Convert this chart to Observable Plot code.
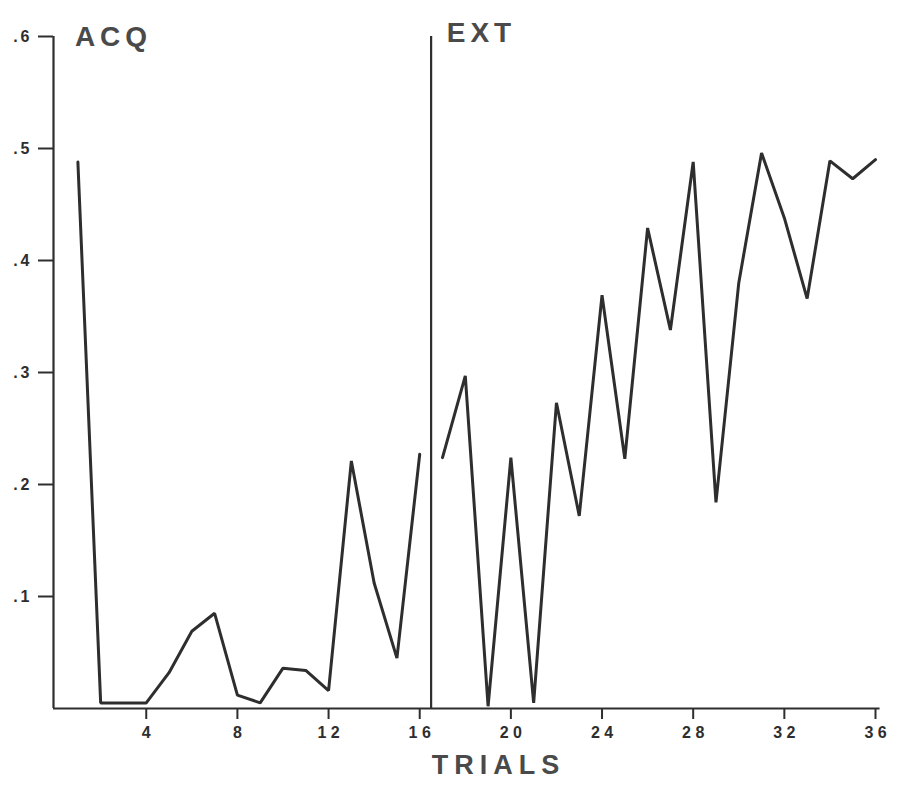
<!DOCTYPE html>
<html>
<head>
<meta charset="utf-8">
<script src="https://cdn.jsdelivr.net/npm/d3@7"></script>
<script src="https://cdn.jsdelivr.net/npm/@observablehq/plot@0.6"></script>
<style>
  html, body { margin: 0; padding: 0; background: #ffffff; }
  #chart svg { display: block; }
</style>
</head>
<body>
<div id="chart"></div>
<script>
// ---- data ----
const acqTrials = [1, 2, 3, 4, 5, 6, 7, 8, 9, 10, 11, 12, 13, 14, 15, 16];
const acqValues = [0.488, 0.005, 0.005, 0.005, 0.032, 0.069, 0.085, 0.012, 0.005, 0.036, 0.034, 0.016, 0.221, 0.112, 0.045, 0.227];
const extTrials = [17, 18, 19, 20, 21, 22, 23, 24, 25, 26, 27, 28, 29, 30, 31, 32, 33, 34, 35, 36];
const extValues = [0.224, 0.297, 0.002, 0.224, 0.005, 0.273, 0.172, 0.369, 0.223, 0.429, 0.338, 0.488, 0.184, 0.380, 0.496, 0.438, 0.366, 0.489, 0.473, 0.490];
const yTicks = [0.1, 0.2, 0.3, 0.4, 0.5, 0.6];
const xTicks = [4, 8, 12, 16, 20, 24, 28, 32, 36];
const phaseLabels = ["ACQ", "EXT"];
const axisLabel = "TRIALS";
const dividerTrial = [16.5];

// table built from the arrays
const rows = [
  ...acqTrials.map((t, i) => ({trial: t, value: acqValues[i], phase: phaseLabels[0]})),
  ...extTrials.map((t, i) => ({trial: t, value: extValues[i], phase: phaseLabels[1]}))
];

const ink = "#2e2e2e";
const textInk = "#4a4a4a";
const font = "'Liberation Sans', 'DejaVu Sans', sans-serif";

const chart = Plot.plot({
  width: 901,
  height: 793,
  marginLeft: 53,
  marginRight: 26,
  marginTop: 36,
  marginBottom: 85,
  style: {fontFamily: font, background: "#ffffff", color: ink},
  x: {domain: [-0.07, 36]},
  y: {domain: [0, 0.6]},
  marks: [
    // axis lines
    Plot.ruleX([-0.07], {y1: 0, y2: 0.6, stroke: ink, strokeWidth: 2.2}),
    Plot.ruleY([0], {x1: -0.07, x2: 36.2, stroke: ink, strokeWidth: 2.2}),
    // y axis ticks & labels
    Plot.axisY({
      ticks: yTicks,
      tickSize: 15,
      tickPadding: 6,
      tickFormat: d => "." + Math.round(d * 10),
      stroke: ink,
      fill: ink,
      label: null
    }),
    // x axis ticks & labels
    Plot.axisX({
      ticks: xTicks,
      tickSize: 11,
      tickPadding: 7,
      tickFormat: d => String(d).split("").join(" "),
      stroke: ink,
      fill: ink,
      label: null
    }),
    // divider between phases
    Plot.ruleX(dividerTrial, {y1: 0, y2: 0.6, stroke: ink, strokeWidth: 2.2}),
    // data lines
    Plot.line(rows, {x: "trial", y: "value", z: "phase", stroke: ink, strokeWidth: 3, strokeLinejoin: "miter", strokeLinecap: "round"}),
    // phase labels
    Plot.text([phaseLabels[0]], {frameAnchor: "top-left", dx: 60, dy: -10, text: d => d, fontSize: 28, fontWeight: "bold", fill: textInk, textAnchor: "middle"}),
    Plot.text([phaseLabels[1]], {frameAnchor: "top-left", dx: 428, dy: -14, text: d => d, fontSize: 28, fontWeight: "bold", fill: textInk, textAnchor: "middle"}),
    // axis title
    Plot.text([axisLabel], {frameAnchor: "bottom-left", dx: 445, dy: 65, text: d => d, fontSize: 27, fontWeight: "bold", fill: textInk, textAnchor: "middle"})
  ]
});

const svg = d3.select(chart);
svg.selectAll("text").filter(function() { return this.textContent === "ACQ" || this.textContent === "EXT"; })
  .style("letter-spacing", "5px");
svg.selectAll("text").filter(function() { return this.textContent === axisLabel; })
  .style("letter-spacing", "6px");
// tick labels: larger, bold
svg.selectAll('g[aria-label="y-axis tick label"] text')
  .style("font-size", "16px").style("font-weight", "bold").style("letter-spacing", "3px");
svg.selectAll('g[aria-label="x-axis tick label"] text')
  .style("font-size", "16px").style("font-weight", "bold");
svg.selectAll('g[aria-label="y-axis tick"], g[aria-label="x-axis tick"]')
  .attr("stroke-width", 2);

document.getElementById("chart").appendChild(chart);
</script>
</body>
</html>
